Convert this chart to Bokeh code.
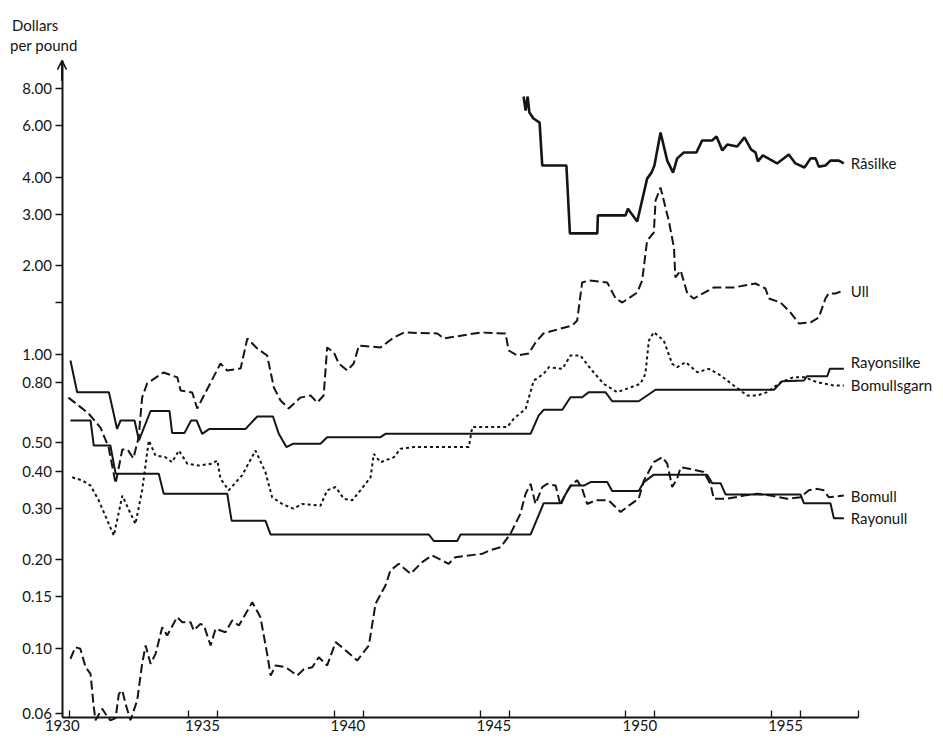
from bokeh.plotting import figure
from bokeh.models import FixedTicker, Range1d, Label, Arrow, OpenHead
from bokeh.embed import file_html
from bokeh.resources import INLINE

# ---------------- data (dollars per pound) ----------------
rasilke_year = [1946.49, 1946.56, 1946.63, 1946.69, 1946.83, 1947.04, 1947.13, 1947.96, 1948.08, 1949.02,
                1949.04, 1949.99, 1950.07, 1950.39, 1950.73, 1950.88, 1950.98, 1951.19, 1951.42, 1951.62,
                1951.76, 1951.99, 1952.42, 1952.62, 1952.96, 1953.11, 1953.31, 1953.48, 1953.82, 1954.07,
                1954.30, 1954.45, 1954.53, 1954.70, 1955.19, 1955.59, 1955.82, 1956.13, 1956.34, 1956.51,
                1956.62, 1956.85, 1957.02, 1957.31, 1957.48]
rasilke_usd = [7.53, 6.75, 7.53, 6.64, 6.34, 6.14, 4.39, 4.39, 2.58, 2.58,
               2.97, 2.97, 3.13, 2.83, 3.96, 4.15, 4.39, 5.68, 4.56, 4.15,
               4.64, 4.86, 4.86, 5.34, 5.34, 5.51, 4.94, 5.17, 5.09, 5.47,
               4.97, 4.86, 4.53, 4.75, 4.46, 4.78, 4.46, 4.32, 4.64, 4.64,
               4.35, 4.39, 4.56, 4.56, 4.46]

ull_year = [1930.87, 1931.22, 1931.56, 1931.97, 1932.25, 1932.49, 1932.72, 1932.90, 1933.10, 1933.28,
            1933.40, 1933.57, 1934.13, 1934.61, 1934.72, 1935.12, 1935.29, 1935.52, 1936.09, 1936.32,
            1936.78, 1937.01, 1937.35, 1937.69, 1937.92, 1938.15, 1938.43, 1938.83, 1939.18, 1939.41,
            1939.63, 1939.75, 1939.98, 1940.15, 1940.44, 1940.66, 1940.84, 1941.58, 1942.04, 1942.38,
            1943.53, 1943.75, 1945.01, 1945.87, 1945.98, 1946.27, 1946.67, 1946.90, 1947.17, 1947.65,
            1948.16, 1948.33, 1948.50, 1948.73, 1949.36, 1949.65, 1949.88, 1950.39, 1950.56, 1950.73,
            1950.96, 1951.02, 1951.19, 1951.47, 1951.65, 1951.70, 1951.88, 1952.11, 1952.33, 1953.02,
            1953.70, 1954.45, 1954.79, 1954.91, 1955.31, 1955.65, 1955.94, 1956.34, 1956.62, 1956.85,
            1956.96, 1957.19, 1957.48]
ull_usd = [0.713, 0.670, 0.630, 0.564, 0.483, 0.364, 0.475, 0.475, 0.443, 0.522,
           0.713, 0.796, 0.868, 0.835, 0.754, 0.742, 0.655, 0.725, 0.931, 0.882,
           0.896, 1.133, 1.047, 0.991, 0.772, 0.697, 0.655, 0.713, 0.725, 0.686,
           0.725, 1.056, 1.015, 0.931, 0.882, 0.931, 1.072, 1.056, 1.142, 1.187,
           1.178, 1.133, 1.187, 1.178, 1.031, 0.991, 1.007, 1.098, 1.178, 1.215,
           1.254, 1.304, 1.756, 1.784, 1.756, 1.549, 1.501, 1.623, 1.784, 2.439,
           2.597, 3.337, 3.694, 2.853, 2.310, 1.826, 1.929, 1.611, 1.549, 1.689,
           1.689, 1.742, 1.675, 1.549, 1.501, 1.388, 1.274, 1.284, 1.335, 1.549,
           1.611, 1.611, 1.650]

rayonsilke_year = [1930.94, 1931.17, 1932.26, 1932.54, 1932.66, 1933.14, 1933.29, 1933.69, 1934.34, 1934.43,
                   1934.85, 1935.08, 1935.27, 1935.46, 1935.71, 1936.95, 1937.35, 1937.89, 1938.09, 1938.35,
                   1938.59, 1939.52, 1939.75, 1941.58, 1941.75, 1946.73, 1947.01, 1947.18, 1947.82, 1948.10,
                   1948.50, 1948.73, 1949.30, 1949.53, 1950.44, 1951.02, 1955.08, 1955.37, 1956.11, 1956.22,
                   1956.91, 1957.00, 1957.48]
rayonsilke_usd = [0.953, 0.744, 0.744, 0.558, 0.596, 0.596, 0.510, 0.642, 0.642, 0.540,
                  0.540, 0.596, 0.596, 0.537, 0.558, 0.558, 0.615, 0.615, 0.537, 0.484,
                  0.497, 0.497, 0.523, 0.523, 0.537, 0.537, 0.620, 0.648, 0.648, 0.715,
                  0.715, 0.744, 0.744, 0.693, 0.693, 0.758, 0.758, 0.811, 0.815, 0.843,
                  0.843, 0.893, 0.893]

bomullsgarn_year = [1931.00, 1931.34, 1931.63, 1931.91, 1932.43, 1932.72, 1933.17, 1933.40, 1933.63, 1933.86,
                    1934.20, 1934.43, 1934.66, 1934.95, 1935.35, 1935.80, 1935.98, 1936.09, 1936.37, 1936.83,
                    1937.29, 1937.63, 1937.86, 1938.21, 1938.59, 1938.89, 1939.52, 1939.75, 1940.04, 1940.32,
                    1940.61, 1940.89, 1941.24, 1941.35, 1941.58, 1942.04, 1942.27, 1942.72, 1944.61, 1944.73,
                    1945.93, 1946.15, 1946.56, 1946.84, 1947.18, 1947.36, 1947.82, 1948.10, 1948.44, 1948.79,
                    1949.24, 1949.70, 1950.50, 1950.67, 1950.79, 1950.96, 1951.30, 1951.59, 1951.76, 1952.05,
                    1952.45, 1952.85, 1953.25, 1953.70, 1954.16, 1954.51, 1954.85, 1955.31, 1955.76, 1956.11,
                    1956.57, 1957.14, 1957.48]
bomullsgarn_usd = [0.382, 0.373, 0.358, 0.319, 0.242, 0.331, 0.265, 0.345, 0.510, 0.453,
                   0.447, 0.430, 0.471, 0.425, 0.419, 0.425, 0.436, 0.378, 0.345, 0.388,
                   0.471, 0.398, 0.327, 0.310, 0.299, 0.310, 0.306, 0.345, 0.354, 0.323,
                   0.319, 0.345, 0.382, 0.459, 0.430, 0.447, 0.478, 0.484, 0.484, 0.566,
                   0.566, 0.604, 0.653, 0.815, 0.859, 0.905, 0.893, 0.991, 0.991, 0.893,
                   0.794, 0.744, 0.794, 0.859, 1.115, 1.190, 1.115, 0.929, 0.905, 0.941,
                   0.870, 0.893, 0.848, 0.784, 0.725, 0.725, 0.744, 0.804, 0.837, 0.837,
                   0.804, 0.784, 0.784]

bomull_year = [1930.94, 1931.11, 1931.28, 1931.46, 1931.63, 1931.74, 1931.80, 1932.03, 1932.14, 1932.31,
               1932.49, 1932.60, 1932.72, 1932.83, 1933.00, 1933.23, 1933.40, 1933.52, 1933.69, 1933.86,
               1934.09, 1934.26, 1934.60, 1934.78, 1935.06, 1935.17, 1935.40, 1935.52, 1935.75, 1935.92,
               1936.26, 1936.49, 1936.72, 1937.18, 1937.46, 1937.69, 1937.81, 1937.98, 1938.32, 1938.72,
               1938.95, 1939.24, 1939.46, 1939.75, 1940.04, 1940.32, 1940.78, 1941.18, 1941.41, 1941.75,
               1941.92, 1942.21, 1942.61, 1943.01, 1943.35, 1943.92, 1944.15, 1945.07, 1945.35, 1945.70,
               1946.04, 1946.38, 1946.56, 1946.73, 1946.90, 1947.13, 1947.30, 1947.59, 1947.76, 1947.93,
               1948.16, 1948.33, 1948.50, 1948.67, 1948.96, 1949.41, 1949.82, 1950.10, 1950.44, 1950.62,
               1950.96, 1951.25, 1951.42, 1951.59, 1951.76, 1951.88, 1952.22, 1952.67, 1952.90, 1953.02,
               1953.48, 1954.05, 1954.51, 1954.96, 1955.54, 1955.99, 1956.28, 1956.57, 1956.79, 1956.96,
               1957.48]
bomull_usd = [0.0923, 0.101, 0.0998, 0.0864, 0.0820, 0.0632, 0.057, 0.0624, 0.0600, 0.057,
              0.058, 0.0701, 0.0720, 0.0649, 0.057, 0.0666, 0.0887, 0.1024, 0.0887, 0.0959,
              0.118, 0.1107, 0.1278, 0.1229, 0.1229, 0.1151, 0.1213, 0.1197, 0.1024, 0.1167,
              0.1136, 0.1246, 0.1197, 0.1437, 0.1278, 0.0959, 0.0809, 0.0876, 0.0864, 0.0809,
              0.0850, 0.0864, 0.0934, 0.0876, 0.1051, 0.0998, 0.0910, 0.1024, 0.1419, 0.1637,
              0.1842, 0.1941, 0.1795, 0.1966, 0.2072, 0.1941, 0.2044, 0.2099, 0.2160, 0.2210,
              0.2455, 0.2871, 0.336, 0.363, 0.310, 0.354, 0.363, 0.358, 0.306, 0.336,
              0.363, 0.373, 0.349, 0.310, 0.319, 0.319, 0.291, 0.306, 0.323, 0.373,
              0.430, 0.447, 0.425, 0.354, 0.378, 0.413, 0.408, 0.398, 0.363, 0.323,
              0.323, 0.331, 0.336, 0.331, 0.323, 0.327, 0.345, 0.349, 0.345, 0.327,
              0.331]

rayonull_year = [1930.94, 1931.63, 1931.74, 1932.31, 1932.49, 1933.97, 1934.14, 1936.32, 1936.47, 1937.63,
                 1937.81, 1943.24, 1943.41, 1944.21, 1944.33, 1946.73, 1947.18, 1947.76, 1948.10, 1948.56,
                 1948.79, 1949.36, 1949.53, 1950.44, 1950.62, 1950.96, 1952.79, 1952.96, 1953.25, 1953.42,
                 1955.99, 1956.11, 1957.02, 1957.14, 1957.48]
rayonull_usd = [0.596, 0.596, 0.490, 0.490, 0.393, 0.393, 0.336, 0.336, 0.272, 0.272,
                0.244, 0.244, 0.232, 0.232, 0.244, 0.244, 0.312, 0.312, 0.358, 0.358,
                0.368, 0.368, 0.343, 0.343, 0.368, 0.390, 0.390, 0.365, 0.365, 0.334,
                0.334, 0.312, 0.312, 0.277, 0.277]

series_names = ["Råsilke", "Ull", "Rayonsilke", "Bomullsgarn", "Bomull", "Rayonull"]
label_usd = [4.46, 1.64, 0.941, 0.784, 0.329, 0.277]

y_ticks = [0.06, 0.10, 0.15, 0.20, 0.30, 0.40, 0.50, 0.80, 1.00, 1.50, 2.00, 3.00, 4.00, 6.00, 8.00]
y_tick_labels = ["0.06", "0.10", "0.15", "0.20", "0.30", "0.40", "0.50", "0.80", "1.00", "",
                 "2.00", "3.00", "4.00", "6.00", "8.00"]
x_label_pos = [1930.66, 1935.47, 1940.46, 1945.47, 1950.48, 1955.48]
x_tick_labels = ["1930", "1935", "1940", "1945", "1950", "1955"]
x_year_marks = [1930.92, 1935, 1936, 1940, 1941, 1945, 1946, 1950, 1951, 1955, 1956, 1957.99]

# ---------------- layout ----------------
W, H = 935, 736
PX_PER_YEAR = 29.14      # horizontal scale
AXIS_PX = 61.5           # where the value axis stands
X0, X_END = 1930.65, 1958.0
PX_PER_DECADE = 294.1    # vertical (log) scale
ONE_PX = 353.9           # height of 1.00
Y0, Y_TOP = 0.0582, 9.98  # bottom axis / arrow tip
LABEL_X = 1957.72

x_lo = X0 - AXIS_PX / PX_PER_YEAR
x_hi = X0 + (W - AXIS_PX) / PX_PER_YEAR
y_hi = 10 ** (ONE_PX / PX_PER_DECADE)
y_lo = 10 ** ((ONE_PX - H) / PX_PER_DECADE)

FONT = "Lato"
INK = "#151515"

p = figure(width=W, height=H, y_axis_type="log",
           x_range=Range1d(x_lo, x_hi), y_range=Range1d(y_lo, y_hi),
           output_backend="svg", toolbar_location=None,
           min_border_left=0, min_border_right=0, min_border_top=0, min_border_bottom=0)
p.title.visible = False
p.outline_line_color = None
p.grid.visible = False
p.background_fill_color = "white"

# x axis (drawn at the bottom value)
p.xaxis.fixed_location = Y0
p.xaxis.bounds = (X0, X_END)
p.xaxis.ticker = FixedTicker(ticks=x_label_pos, minor_ticks=x_year_marks)
p.xaxis.major_label_overrides = {v: t for v, t in zip(x_label_pos, x_tick_labels)}
p.xaxis.major_tick_in = 0
p.xaxis.major_tick_out = 0
p.xaxis.minor_tick_in = 7
p.xaxis.minor_tick_out = 0
p.xaxis.minor_tick_line_width = 1.3
p.xaxis.minor_tick_line_color = INK
p.xaxis.axis_line_width = 2
p.xaxis.axis_line_color = INK
p.xaxis.major_label_standoff = 2
p.xaxis.major_label_text_font = FONT
p.xaxis.major_label_text_font_size = "15px"
p.xaxis.major_label_text_color = INK

# y axis (drawn at the first year)
p.yaxis.fixed_location = X0
p.yaxis.bounds = (Y0, Y_TOP)
p.yaxis.ticker = FixedTicker(ticks=y_ticks, minor_ticks=[])
p.yaxis.major_label_overrides = {v: t for v, t in zip(y_ticks, y_tick_labels)}
p.yaxis.major_tick_in = 0
p.yaxis.major_tick_out = 7
p.yaxis.major_tick_line_width = 1.3
p.yaxis.major_tick_line_color = INK
p.yaxis.minor_tick_in = 0
p.yaxis.minor_tick_out = 0
p.yaxis.axis_line_width = 2
p.yaxis.axis_line_color = INK
p.yaxis.major_label_standoff = 3
p.yaxis.major_label_text_font = FONT
p.yaxis.major_label_text_font_size = "15px"
p.yaxis.major_label_text_color = INK

# arrow head on the value axis
p.add_layout(Arrow(end=OpenHead(size=9, line_width=1.6, line_color=INK), line_color=INK, line_width=2,
                   x_start=X0, y_start=8.5, x_end=X0, y_end=Y_TOP))

# series
p.line(rayonull_year, rayonull_usd, line_color=INK, line_width=2)
p.line(rayonsilke_year, rayonsilke_usd, line_color=INK, line_width=2)
p.line(bomull_year, bomull_usd, line_color=INK, line_width=2, line_dash="9 4")
p.line(bomullsgarn_year, bomullsgarn_usd, line_color=INK, line_width=2, line_dash="3 3")
p.line(ull_year, ull_usd, line_color=INK, line_width=2, line_dash="9 4")
p.line(rasilke_year, rasilke_usd, line_color=INK, line_width=2.6)

# end labels
for name, yv in zip(series_names, label_usd):
    p.add_layout(Label(x=LABEL_X, y=yv, text=name, text_font=FONT, text_font_size="15px",
                       text_color=INK, text_baseline="middle", text_align="left"))

# value-axis title
p.add_layout(Label(x=X0, y=13.23, x_offset=-50, text="Dollars", text_font=FONT, text_font_size="15px",
                   text_color=INK, text_baseline="middle", text_align="left"))
p.add_layout(Label(x=X0, y=11.23, x_offset=-52, text="per pound", text_font=FONT, text_font_size="15px",
                   text_color=INK, text_baseline="middle", text_align="left"))

open("out.html", "w").write(file_html(p, INLINE))
